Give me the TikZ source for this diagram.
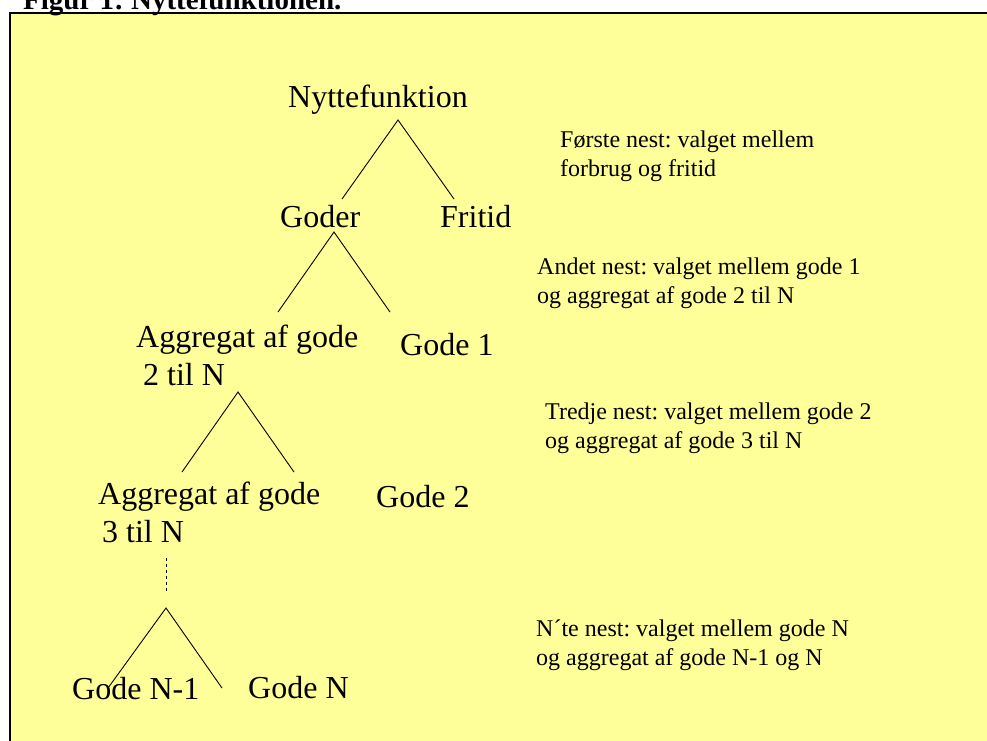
\documentclass[tikz,border=0pt]{standalone}
\usepackage{fontspec}
\setmainfont{Liberation Serif}
\usetikzlibrary{positioning}
\definecolor{paleyellow}{RGB}{255,255,153}
\frenchspacing
\tikzset{level/.style={font=\fontsize{32}{38}\selectfont, inner sep=0pt, anchor=base west, align=left},
	nest/.style={font=\fontsize{24}{29}\selectfont, inner sep=0pt, anchor=base west, align=left},
	caption/.style={font=\fontsize{29}{34}\selectfont\bfseries, inner sep=0pt, anchor=base west},
	frame/.style={draw, line width=2.5pt, fill=paleyellow},
	branch/.style={draw, line width=0.9pt},
	gap/.style={draw, line width=0.9pt, dashed, dash pattern=on 3pt off 3pt}}

\begin{document}
\begin{tikzpicture}[x=1pt,y=-1pt]
		\clip (0,0) rectangle (987,740);
		\useasboundingbox (0,0) rectangle (987,740);
		\draw [frame] (10,13) rectangle (1010,760);
		\node [caption](title) at (23,9){Figur 1: Nyttefunktionen.};
		
		\node [level](nytte) at (288,107){Nyttefunktion};
		\node [level](goder) at (280,227){Goder};
		\node [level](fritid) at (440,227){Fritid};
		\node [level](aggtwo) at (136,385){Aggregat af gode\\\hspace*{7pt}2 til N};
		\node [level](godeone) at (400,355){Gode 1};
		\node [level](aggthree) at (98,542){Aggregat af gode\\\hspace*{4pt}3 til N};
		\node [level](godetwo) at (376,507){Gode 2};
		\node [level](godenm) at (72,699){Gode N-1};
		\node [level](goden) at (248,698){Gode N};
		
		\node [nest](nestone) at (560,176){Første nest: valget mellem\\forbrug og fritid};
		\node [nest](nesttwo) at (537,303){Andet nest: valget mellem gode 1\\og aggregat af gode 2 til N};
		\node [nest](nestthree) at (545,448){Tredje nest: valget mellem gode 2\\og aggregat af gode 3 til N};
		\node [nest](nestn) at (536,665){N´te nest: valget mellem gode N\\og aggregat af gode N-1 og N};
		
		\coordinate (topone) at (398,120);
		\coordinate (leftone) at (342,199);
		\coordinate (rightone) at (454,199);
		\coordinate (toptwo) at (334,232);
		\coordinate (lefttwo) at (278,312);
		\coordinate (righttwo) at (390,312);
		\coordinate (topthree) at (238,392);
		\coordinate (leftthree) at (182,472);
		\coordinate (rightthree) at (294,472);
		\coordinate (dotstart) at (166,558);
		\coordinate (dotend) at (166,592);
		\coordinate (topn) at (166,608);
		\coordinate (leftn) at (108,688);
		\coordinate (rightn) at (222,688);
		
		\draw [branch] (leftone)--(topone)--(rightone);
		\draw [branch] (lefttwo)--(toptwo)--(righttwo);
		\draw [branch] (leftthree)--(topthree)--(rightthree);
		\draw [gap] (dotstart)--(dotend);
		\draw [branch] (leftn)--(topn)--(rightn);
	\end{tikzpicture}
\end{document}
